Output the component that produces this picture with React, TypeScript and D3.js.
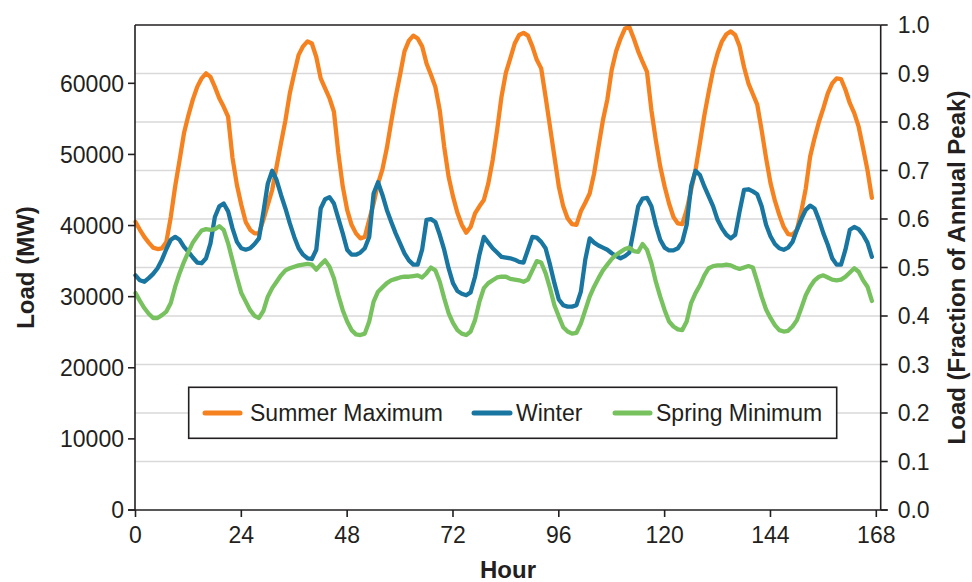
import React from "react";
import * as d3 from "d3";

// Hour index (x categories)
const hours: number[] = d3.range(0, 168);

// Load in MW
const summerMax: number[] = [
  40500, 39400, 38400, 37600, 36900, 36700, 36800, 37700, 41200, 45500,
  49200, 53000, 55500, 57700, 59500, 60700, 61400, 60900, 59500, 57900,
  56700, 55300, 49500, 45700, 42900, 40500, 39400, 38900, 38900, 40800,
  42900, 45000, 48300, 51600, 54800, 58600, 61400, 64000, 65200, 65900,
  65600, 63700, 60700, 59300, 57900, 56000, 50200, 45500, 42200, 40100,
  38900, 38200, 38400, 40800, 43100, 45900, 47900, 50900, 54600, 58100,
  61200, 64500, 66000, 66700, 66300, 65200, 62800, 61200, 59500, 56200,
  51100, 46900, 44100, 41800, 40100, 39000, 39800, 41700, 42700, 43600,
  45900, 49200, 53400, 58100, 61500, 63500, 65600, 66800, 67100, 66700,
  65200, 63300, 62100, 58100, 53900, 49700, 45500, 42700, 41000, 40200,
  40100, 42000, 43200, 44500, 47300, 51100, 54800, 57700, 61900, 64500,
  66300, 67700, 67900, 66300, 64500, 63000, 61600, 56200, 52000, 48300,
  45500, 43100, 41200, 40300, 40200, 42200, 45000, 47800, 51600, 55500,
  58800, 61900, 64200, 65900, 66900, 67300, 66800, 65200, 62300, 60000,
  58500, 57000, 53400, 49500, 46000, 43500, 41500, 39800, 38800, 38700,
  39400, 42000, 45200, 49700, 52300, 54600, 56500, 58600, 60000, 60700,
  60600, 59100, 57200, 55800, 53900, 50900, 47800, 43900,
];

const winter: number[] = [
  33000, 32300, 32100, 32600, 33200, 34000, 35200, 36700, 38000, 38400,
  38000, 37000, 36300, 35500, 34800, 34700, 35400, 37500, 41200, 42700,
  43100, 42000, 39600, 37700, 36800, 36600, 36800, 37400, 38200, 41900,
  45900, 47700, 46400, 44300, 42400, 40300, 38400, 36800, 35900, 35400,
  35300, 36600, 42400, 43700, 44000, 43100, 41000, 38900, 36600, 35900,
  35900, 36200, 36800, 38400, 44500, 46100, 44300, 42200, 40500, 38900,
  37500, 36100, 35100, 34500, 34500, 36600, 40800, 40900, 40500, 38700,
  36600, 34000, 31900, 30800, 30400, 30200, 30600, 32800, 35900, 38400,
  37600, 36800, 36200, 35600, 35500, 35400, 35200, 34900, 34800, 36600,
  38400, 38300, 37700, 36800, 34500, 31900, 29600, 28800, 28600, 28600,
  28800, 30700, 35200, 38200, 37600, 37200, 36900, 36600, 36100, 35700,
  35400, 35700, 36200, 39400, 42700, 43800, 43900, 42700, 40100, 38000,
  36900, 36500, 36500, 36800, 37700, 40100, 45500, 47700, 47100, 45500,
  44100, 42700, 40800, 39600, 38700, 38200, 38700, 42000, 45000, 45100,
  44800, 44400, 42700, 40100, 38500, 37400, 36800, 36600, 36900, 37700,
  39400, 40900, 42200, 42800, 42400, 40800, 38900, 37300, 35400, 34500,
  34500, 36600, 39400, 39800, 39500, 38700, 37600, 35600,
];

const springMin: number[] = [
  30500, 29400, 28400, 27600, 27000, 27000, 27400, 27900, 29100, 31400,
  33300, 34900, 36300, 37600, 38500, 39300, 39500, 39400, 39500, 39900,
  39400, 37500, 35100, 32700, 30500, 29300, 28100, 27300, 27000, 28000,
  30000, 31200, 32100, 33000, 33700, 34000, 34200, 34400, 34500, 34600,
  34500, 33800, 34500, 35100, 34200, 32600, 30200, 28100, 26500, 25300,
  24700, 24600, 24800, 26500, 29300, 30700, 31300, 31900, 32300, 32500,
  32700, 32800, 32800, 32900, 33000, 32700, 33300, 34100, 33700, 32100,
  29800, 27700, 26300, 25300, 24800, 24600, 25100, 26700, 29300, 31200,
  31900, 32300, 32700, 32800, 32800, 32500, 32400, 32300, 32100, 32400,
  33700, 35000, 34800, 33300, 31200, 28800, 27200, 25700, 25100, 24800,
  24900, 26200, 28100, 30000, 31400, 32600, 33700, 34500, 35300, 35900,
  36300, 36700, 36900, 36400, 36300, 37400, 36600, 34700, 32100, 30000,
  28100, 26500, 25800, 25400, 25300, 26500, 29100, 30500, 31600, 33000,
  34000, 34300, 34400, 34400, 34500, 34400, 34100, 33900, 34100, 34300,
  34100, 32100, 30000, 28200, 27000, 26000, 25300, 25100, 25200, 25800,
  26700, 28400, 30200, 31400, 32300, 32800, 33000, 32700, 32400, 32300,
  32400, 32800, 33400, 34000, 33500, 32300, 31400, 29400,
];

const seriesNames: string[] = ["Summer Maximum", "Winter", "Spring Minimum"];
const xTickValues: number[] = [0, 24, 48, 72, 96, 120, 144, 168];
const leftTickValues: number[] = [0, 10000, 20000, 30000, 40000, 50000, 60000];
const rightTickValues: number[] = [0, 0.1, 0.2, 0.3, 0.4, 0.5, 0.6, 0.7, 0.8, 0.9, 1.0];
const annualPeak = 68200;

const COLORS = ["#F5821F", "#1976A1", "#77C25E"];
const FONT = "'Liberation Sans', Arial, Helvetica, sans-serif";
const AXIS = "#231F20";

export default function App() {
  const W = 972, H = 582;
  const L = 135, R = 880.7, T = 25, B = 510;

  const x = d3.scaleLinear().domain([0, 168]).range([135.5, 876.3]);
  const yL = d3.scaleLinear().domain([0, annualPeak]).range([B, T]);
  const yR = d3.scaleLinear().domain([0, 1]).range([B, T]);

  const data = [summerMax, winter, springMin];
  const line = d3
    .line<number>()
    .x((_, i) => x(hours[i]))
    .y((d) => yL(d));

  const legendItems = [
    { x1: 205, x2: 240, tx: 250 },
    { x1: 474, x2: 510, tx: 516 },
    { x1: 615, x2: 650, tx: 656 },
  ];
  const legendY = 413;

  return (
    <div style={{ position: "absolute", left: 0, top: 0 }}>
      <svg width={W} height={H} style={{ display: "block", background: "#fff" }} fontFamily={FONT}>
        {/* gridlines */}
        {rightTickValues
          .filter((v) => v > 0 && v < 1)
          .map((v) => (
            <line key={"g" + v} x1={L} x2={R} y1={yR(v)} y2={yR(v)} stroke="#D9D9D9" strokeWidth={1.6} />
          ))}

        {/* data lines */}
        {data.map((vals, k) => (
          <path
            key={seriesNames[k]}
            d={line(vals) || ""}
            fill="none"
            stroke={COLORS[k]}
            strokeWidth={4.3}
            strokeLinejoin="round"
            strokeLinecap="round"
          />
        ))}

        {/* frame */}
        <line x1={L} x2={R} y1={T} y2={T} stroke={AXIS} strokeWidth={1.6} />
        <line x1={L} x2={L} y1={T} y2={B} stroke={AXIS} strokeWidth={1.6} />
        <line x1={R} x2={R} y1={T} y2={B} stroke={AXIS} strokeWidth={1.6} />
        <line x1={L - 7} x2={R + 7} y1={B} y2={B} stroke={AXIS} strokeWidth={1.6} />

        {/* left axis */}
        {leftTickValues.map((v) => (
          <g key={"l" + v}>
            <line x1={L - 7} x2={L} y1={yL(v)} y2={yL(v)} stroke={AXIS} strokeWidth={1.6} />
            <text x={L - 11} y={yL(v)} dy="0.36em" textAnchor="end" fontSize={23} fill="#231F20">
              {String(v)}
            </text>
          </g>
        ))}

        {/* right axis */}
        {rightTickValues.map((v) => (
          <g key={"r" + v}>
            <line x1={R} x2={R + 7} y1={yR(v)} y2={yR(v)} stroke={AXIS} strokeWidth={1.6} />
            <text x={R + 17} y={yR(v)} dy="0.36em" textAnchor="start" fontSize={23} fill="#231F20">
              {d3.format(".1f")(v)}
            </text>
          </g>
        ))}

        {/* bottom axis */}
        {xTickValues.map((v) => (
          <g key={"b" + v}>
            <line x1={x(v)} x2={x(v)} y1={B} y2={B + 7} stroke={AXIS} strokeWidth={1.6} />
            <text x={x(v)} y={543} textAnchor="middle" fontSize={23} fill="#231F20">
              {String(v)}
            </text>
          </g>
        ))}

        {/* axis titles */}
        <text x={508} y={578} textAnchor="middle" fontSize={24} fontWeight="bold" fill="#231F20">
          Hour
        </text>
        <text
          transform={`translate(33.5, ${(T + B) / 2}) rotate(-90)`}
          textAnchor="middle"
          fontSize={24}
          fontWeight="bold"
          fill="#231F20"
        >
          Load (MW)
        </text>
        <text
          transform={`translate(965, ${(T + B) / 2}) rotate(-90)`}
          textAnchor="middle"
          fontSize={24}
          fontWeight="bold"
          fill="#231F20"
        >
          Load (Fraction of Annual Peak)
        </text>

        {/* legend */}
        <rect x={188.7} y={387.3} width={648} height={51} fill="#fff" stroke={AXIS} strokeWidth={1.6} />
        {legendItems.map((it, k) => (
          <g key={"lg" + k}>
            <line
              x1={it.x1}
              x2={it.x2}
              y1={legendY}
              y2={legendY}
              stroke={COLORS[k]}
              strokeWidth={5}
              strokeLinecap="round"
            />
            <text x={it.tx} y={legendY} dy="0.36em" fontSize={23} fill="#231F20">
              {seriesNames[k]}
            </text>
          </g>
        ))}
      </svg>
    </div>
  );
}
